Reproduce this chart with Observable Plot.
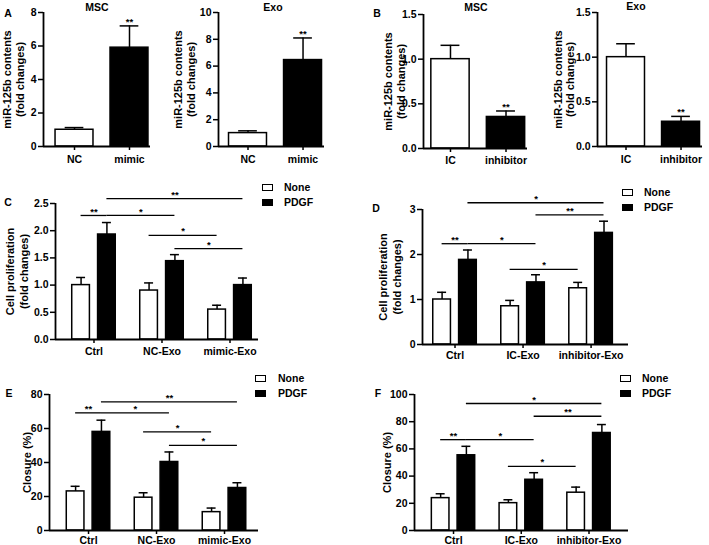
<!DOCTYPE html>
<html><head><meta charset="utf-8">
<script src="https://cdn.jsdelivr.net/npm/d3@7"></script>
<script src="https://cdn.jsdelivr.net/npm/@observablehq/plot@0.6"></script>
<style>
body{margin:0;background:#fff;}
#fig{position:relative;width:709px;height:545px;overflow:hidden;font-family:Arial,"Liberation Sans",sans-serif;font-weight:bold;color:#000;background:#fff;}
.p{position:absolute;}
.t{position:absolute;line-height:1;white-space:nowrap;transform:translate(-50%,-50%);}
.lt{position:absolute;font-size:10.5px;line-height:1;white-space:nowrap;transform:translateY(-50%);}
.sw{position:absolute;width:11px;height:7px;box-sizing:border-box;border:1.5px solid #000;}
</style></head><body><div id="fig"></div><script>
// ---------- data ----------
const catA = ["NC", "mimic"];
const valA_MSC = [1.0, 5.9];
const errA_MSC = [0.13, 1.3];
const valA_Exo = [1.0, 6.45];
const errA_Exo = [0.17, 1.65];
const starsA = ["", "**"];

const catB = ["IC", "inhibitor"];
const valB_MSC = [1.0, 0.353];
const errB_MSC = [0.155, 0.067];
const valB_Exo = [1.0, 0.277];
const errB_Exo = [0.15, 0.06];
const starsB = ["", "**"];

const seriesNames = ["None", "PDGF"];

const groupsC = ["Ctrl", "NC-Exo", "mimic-Exo"];
const noneC = [1.0, 0.9, 0.55];
const noneErrC = [0.14, 0.14, 0.08];
const pdgfC = [1.93, 1.44, 1.0];
const pdgfErrC = [0.22, 0.12, 0.13];
const sigC = [
  ["Ctrl", "None", "Ctrl", "PDGF", 2.28, "**"],
  ["Ctrl", "PDGF", "NC-Exo", "PDGF", 2.28, "*"],
  ["Ctrl", "PDGF", "mimic-Exo", "PDGF", 2.59, "**"],
  ["NC-Exo", "None", "mimic-Exo", "None", 1.915, "*"],
  ["NC-Exo", "PDGF", "mimic-Exo", "PDGF", 1.67, "*"]
];

const groupsD = ["Ctrl", "IC-Exo", "inhibitor-Exo"];
const noneD = [1.0, 0.85, 1.25];
const noneErrD = [0.16, 0.13, 0.13];
const pdgfD = [1.88, 1.38, 2.48];
const pdgfErrD = [0.22, 0.17, 0.26];
const sigD = [
  ["Ctrl", "None", "Ctrl", "PDGF", 2.24, "**"],
  ["Ctrl", "PDGF", "IC-Exo", "PDGF", 2.24, "*"],
  ["Ctrl", "PDGF", "inhibitor-Exo", "PDGF", 3.15, "*"],
  ["IC-Exo", "PDGF", "inhibitor-Exo", "PDGF", 2.88, "**"],
  ["IC-Exo", "None", "inhibitor-Exo", "None", 1.67, "*"]
];

const groupsE = ["Ctrl", "NC-Exo", "mimic-Exo"];
const noneE = [23, 19.3, 10.8];
const noneErrE = [3, 2.9, 2.4];
const pdgfE = [58, 40.3, 25];
const pdgfErrE = [6.9, 5.9, 3.1];
const sigE = [
  ["Ctrl", "None", "Ctrl", "PDGF", 69.2, "**"],
  ["Ctrl", "PDGF", "NC-Exo", "PDGF", 69.2, "*"],
  ["Ctrl", "PDGF", "mimic-Exo", "PDGF", 75.7, "**"],
  ["NC-Exo", "None", "mimic-Exo", "None", 58, "*"],
  ["NC-Exo", "PDGF", "mimic-Exo", "PDGF", 50.1, "*"]
];

const groupsF = ["Ctrl", "IC-Exo", "inhibitor-Exo"];
const noneF = [23.8, 20.1, 27.8];
const noneErrF = [3.2, 2.5, 4.1];
const pdgfF = [55.3, 37.3, 71.7];
const pdgfErrF = [6.6, 5.2, 6.2];
const sigF = [
  ["Ctrl", "None", "Ctrl", "PDGF", 66.8, "**"],
  ["Ctrl", "PDGF", "IC-Exo", "PDGF", 66.8, "*"],
  ["Ctrl", "PDGF", "inhibitor-Exo", "PDGF", 93.4, "*"],
  ["IC-Exo", "PDGF", "inhibitor-Exo", "PDGF", 84, "**"],
  ["IC-Exo", "None", "inhibitor-Exo", "None", 47.2, "*"]
];

const ticksA_MSC = [0, 2, 4, 6, 8];
const ticksA_Exo = [0, 2, 4, 6, 8, 10];
const ticksB = [0, 0.5, 1.0, 1.5];
const ticksC = [0, 0.5, 1.0, 1.5, 2.0, 2.5];
const ticksD = [0, 1, 2, 3];
const ticksE = [0, 20, 40, 60, 80];
const ticksF = [0, 20, 40, 60, 80, 100];

const labelMiR = ["miR-125b contents", "(fold changes)"];
const labelProlif = ["Cell proliferation", "(fold changes)"];
const labelClosure = ["Closure (%)"];

// ---------- drawing ----------
const fig = document.getElementById("fig");
const FONT = "Arial, 'Liberation Sans', sans-serif";

function panel(L, cfg) {
  const {groups, series} = cfg;
  const multi = series.length > 1;
  const off = multi ? 0.19 : 0, hw = multi ? 0.13 : 0.345, cw = multi ? 0.066 : 0.17;
  const bars = [];
  series.forEach((s, si) => groups.forEach((g, gi) => bars.push({
    g, s: s.name,
    fill: Array.isArray(s.fill) ? s.fill[gi] : s.fill,
    xc: gi + (multi ? (si === 0 ? -off : off) : 0),
    v: s.vals[gi], e: s.errs[gi],
    star: s.stars ? s.stars[gi] : ""
  })));
  const xcOf = (g, s) => bars.find(b => b.g === g && b.s === s).xc;
  const sig = (cfg.sig || []).map(([g1, s1, g2, s2, y, label]) => ({x1: xcOf(g1, s1), x2: xcOf(g2, s2), y, label}));
  const labelMarks = cfg.ylabel.map((line, i) =>
    Plot.text([line], {text: d => d, frameAnchor: "left", textAnchor: "middle", lineAnchor: "middle", rotate: -90, dx: -L.ld[i], fontSize: 11}));
  const chart = Plot.plot({
    width: L.w, height: L.h,
    marginLeft: L.fl - L.x, marginRight: L.x + L.w - L.fr,
    marginTop: L.ft - L.y, marginBottom: L.y + L.h - L.fb,
    style: {fontFamily: FONT, fontWeight: "bold", fontSize: "10px", overflow: "visible", background: "transparent", color: "black"},
    x: {domain: L.xd},
    y: {domain: [0, cfg.ymax]},
    color: {type: "identity"},
    marks: [
      Plot.rect(bars, {x1: d => d.xc - hw, x2: d => d.xc + hw, y1: 0, y2: "v", fill: "fill", stroke: "black", strokeWidth: 1.5}),
      Plot.ruleX(bars, {x: "xc", y1: "v", y2: d => d.v + d.e, strokeWidth: 1.5}),
      Plot.ruleY(bars, {x1: d => d.xc - cw, x2: d => d.xc + cw, y: d => d.v + d.e, strokeWidth: 1.5}),
      Plot.text(bars.filter(b => b.star), {x: "xc", y: d => d.v + d.e, text: "star", dy: -4, fontSize: 9.5}),
      Plot.ruleY(sig, {x1: "x1", x2: "x2", y: "y", strokeWidth: 1.3}),
      Plot.text(sig, {x: d => (d.x1 + d.x2) / 2, y: "y", text: "label", dy: -4, fontSize: 9.5}),
      Plot.ruleY([0], {strokeWidth: 1.8}),
      Plot.ruleX([L.xd[0]], {strokeWidth: 1.8}),
      Plot.axisY({ticks: cfg.yticks, tickFormat: cfg.yfmt || (d => String(d)), tickSize: 5, tickPadding: 2, strokeWidth: 1.5, fontSize: 10.5, label: null}),
      Plot.axisX({ticks: groups.map((_, i) => i), tickFormat: i => groups[Math.round(i)], tickSize: 4, tickPadding: L.tp, strokeWidth: 1.5, fontSize: 10.5, label: null}),
      ...labelMarks
    ]
  });
  chart.classList.add("p");
  chart.style.left = L.x + "px";
  chart.style.top = L.y + "px";
  fig.appendChild(chart);
}

const f1 = d3.format(".1f");
const single = (vals, errs, stars) => [{name: "v", fill: ["white", "black"], vals, errs, stars}];
const dual = (nv, ne, pv, pe) => [
  {name: seriesNames[0], fill: "white", vals: nv, errs: ne},
  {name: seriesNames[1], fill: "black", vals: pv, errs: pe}
];

panel({x: 0, y: 0, w: 172, h: 170, fl: 43, fr: 150, ft: 12, fb: 146, xd: [-0.564, 1.382], ld: [36, 23], tp: 5},
  {groups: catA, series: single(valA_MSC, errA_MSC, starsA), ymax: 8, yticks: ticksA_MSC, ylabel: labelMiR});
panel({x: 172, y: 0, w: 180, h: 170, fl: 218, fr: 324, ft: 12, fb: 146, xd: [-0.536, 1.39], ld: [40, 27], tp: 5},
  {groups: catA, series: single(valA_Exo, errA_Exo, starsA), ymax: 10, yticks: ticksA_Exo, ylabel: labelMiR});
panel({x: 355, y: 0, w: 175, h: 170, fl: 423, fr: 527, ft: 14, fb: 148, xd: [-0.486, 1.387], ld: [35, 22.5], tp: 4},
  {groups: catB, series: single(valB_MSC, errB_MSC, starsB), ymax: 1.5, yticks: ticksB, yfmt: f1, ylabel: labelMiR});
panel({x: 530, y: 0, w: 179, h: 170, fl: 597, fr: 702, ft: 12, fb: 146, xd: [-0.518, 1.39], ld: [39, 27], tp: 5},
  {groups: catB, series: single(valB_Exo, errB_Exo, starsB), ymax: 1.5, yticks: ticksB, yfmt: f1, ylabel: labelMiR});

panel({x: 0, y: 165, w: 355, h: 195, fl: 55, fr: 258, ft: 203, fb: 339, xd: [-0.566, 2.419], ld: [45, 31], tp: 4},
  {groups: groupsC, series: dual(noneC, noneErrC, pdgfC, pdgfErrC), ymax: 2.5, yticks: ticksC, yfmt: f1, ylabel: labelProlif, sig: sigC});
panel({x: 355, y: 165, w: 354, h: 195, fl: 422, fr: 628, ft: 209, fb: 344, xd: [-0.478, 2.55], ld: [39, 25], tp: 3},
  {groups: groupsD, series: dual(noneD, noneErrD, pdgfD, pdgfErrD), ymax: 3, yticks: ticksD, ylabel: labelProlif, sig: sigD});
panel({x: 0, y: 360, w: 355, h: 185, fl: 49, fr: 258, ft: 394, fb: 530, xd: [-0.574, 2.5], ld: [22], tp: 2},
  {groups: groupsE, series: dual(noneE, noneErrE, pdgfE, pdgfErrE), ymax: 80, yticks: ticksE, ylabel: labelClosure, sig: sigE});
panel({x: 355, y: 360, w: 354, h: 185, fl: 414, fr: 628, ft: 394, fb: 530, xd: [-0.576, 2.583], ld: [27], tp: 2},
  {groups: groupsF, series: dual(noneF, noneErrF, pdgfF, pdgfErrF), ymax: 100, yticks: ticksF, ylabel: labelClosure, sig: sigF});

// ---------- letters, titles, legends ----------
function txt(s, x, y, size) {
  const d = document.createElement("div");
  d.className = "t"; d.textContent = s;
  d.style.left = x + "px"; d.style.top = y + "px"; d.style.fontSize = size + "px";
  fig.appendChild(d);
}
[["A", 8, 13], ["B", 377, 13], ["C", 8, 202], ["D", 376, 208], ["E", 9, 393], ["F", 378, 393]]
  .forEach(([s, x, y]) => txt(s, x, y, 10.5));
[["MSC", 97, 7], ["Exo", 273, 7], ["MSC", 476, 7], ["Exo", 636, 6]]
  .forEach(([s, x, y]) => txt(s, x, y, 10.5));

function legend(sx, tx, y1, y2) {
  [[seriesNames[0], "white", y1], [seriesNames[1], "black", y2]].forEach(([name, fill, yc]) => {
    const sw = document.createElement("div");
    sw.className = "sw"; sw.style.background = fill;
    sw.style.left = sx + "px"; sw.style.top = (yc - 3.5) + "px";
    fig.appendChild(sw);
    const t = document.createElement("div");
    t.className = "lt"; t.textContent = name;
    t.style.left = tx + "px"; t.style.top = yc + "px";
    fig.appendChild(t);
  });
}
legend(262, 284, 187, 202);
legend(622, 644, 192, 207);
legend(255, 278, 378, 393);
legend(620, 642, 378, 393);
</script></body></html>
